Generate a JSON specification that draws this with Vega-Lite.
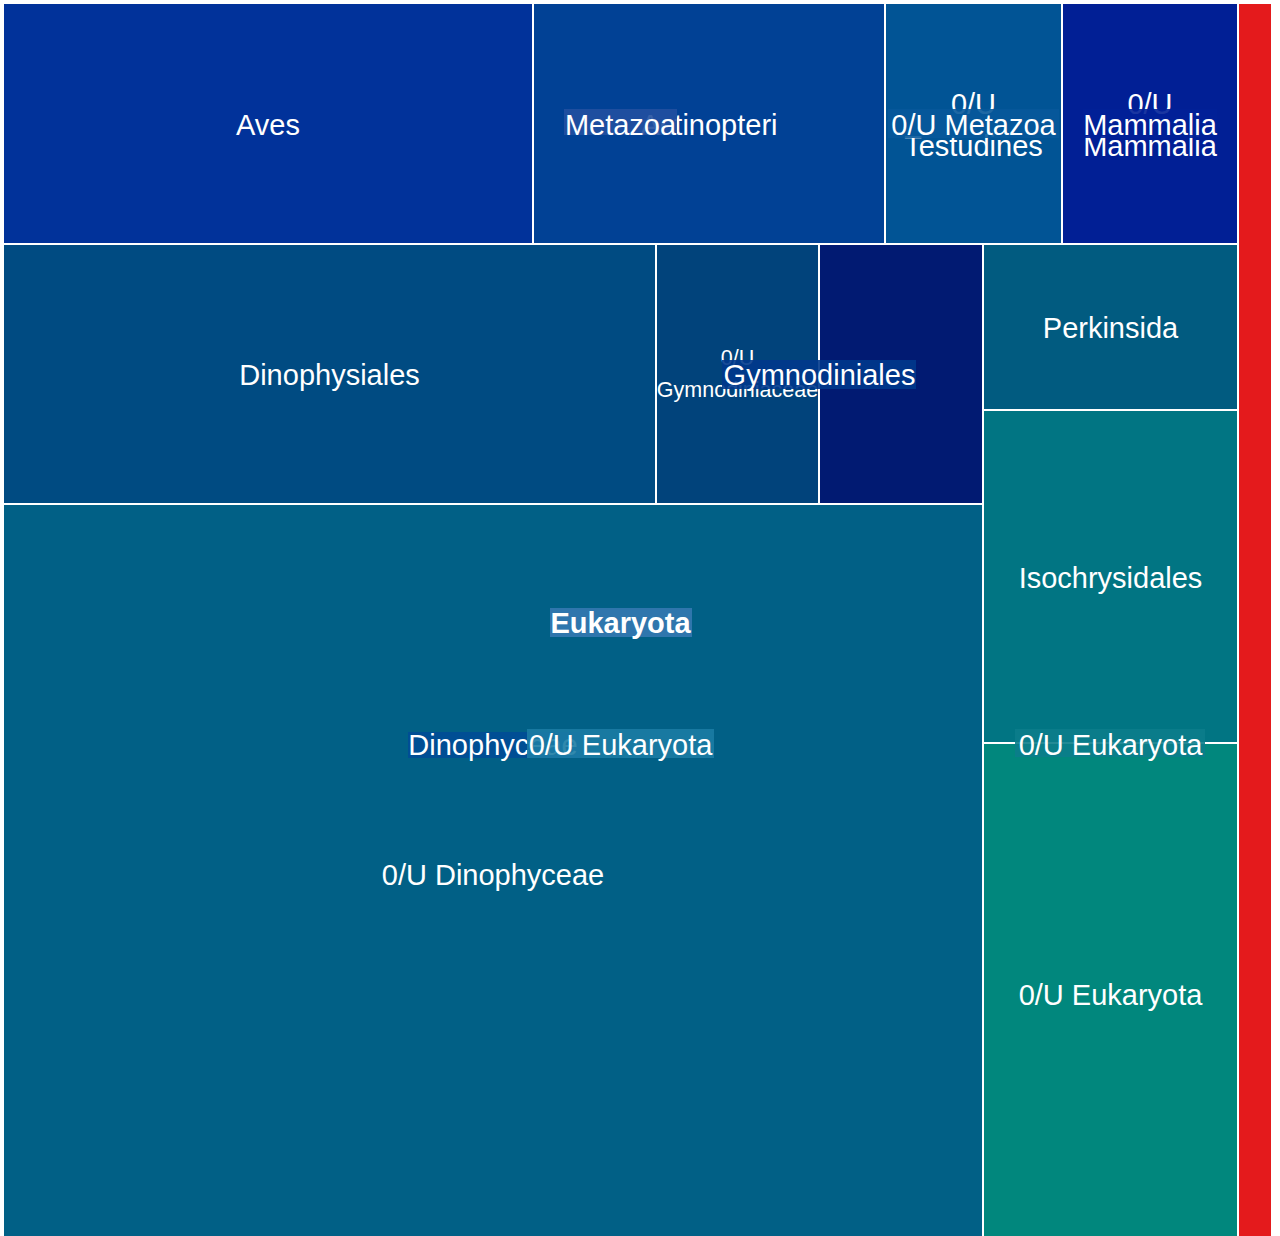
{
  "$schema": "https://vega.github.io/schema/vega-lite/v6.json",
  "width": 1280,
  "height": 1236,
  "padding": 0,
  "autosize": {"type": "fit", "contains": "padding"},
  "background": "white",
  "config": {"view": {"stroke": null}, "text": {"font": "Liberation Sans"}},
  "datasets": {
    "cells": [
      {"key": "aves", "label": "Aves", "small": false, "wrap": false, "x0": 3, "x1": 533, "y0": 3, "y1": 244},
      {"key": "actinopteri", "label": "Actinopteri", "small": false, "wrap": false, "x0": 533, "x1": 885, "y0": 3, "y1": 244},
      {"key": "testudines", "label": "0/U\nTestudines", "small": false, "wrap": true, "x0": 885, "x1": 1062, "y0": 3, "y1": 244},
      {"key": "mammalia", "label": "0/U\nMammalia", "small": false, "wrap": true, "x0": 1062, "x1": 1238, "y0": 3, "y1": 244},
      {"key": "dinophysiales", "label": "Dinophysiales", "small": false, "wrap": false, "x0": 3, "x1": 656, "y0": 244, "y1": 504},
      {"key": "gymnodiniaceae", "label": "0/U\nGymnodiniaceae", "small": true, "wrap": true, "x0": 656, "x1": 819, "y0": 244, "y1": 504},
      {"key": "gymnodiniales_leaf", "label": "", "small": false, "wrap": false, "x0": 819, "x1": 983, "y0": 244, "y1": 504},
      {"key": "perkinsida", "label": "Perkinsida", "small": false, "wrap": false, "x0": 983, "x1": 1238, "y0": 244, "y1": 410},
      {"key": "isochrysidales", "label": "Isochrysidales", "small": false, "wrap": false, "x0": 983, "x1": 1238, "y0": 410, "y1": 743},
      {"key": "eukaryota_leaf", "label": "0/U Eukaryota", "small": false, "wrap": false, "x0": 983, "x1": 1238, "y0": 743, "y1": 1244},
      {"key": "dinophyceae_leaf", "label": "0/U Dinophyceae", "small": false, "wrap": false, "x0": 3, "x1": 983, "y0": 504, "y1": 1244},
      {"key": "other", "label": "", "small": false, "wrap": false, "x0": 1238, "x1": 1272, "y0": 3, "y1": 1244}
    ],
    "groups": [
      {"key": "g_metazoa", "label": "Metazoa", "level": "A", "bold": false, "gx0": 3, "gx1": 1238, "gy0": 3, "gy1": 244, "bx0": 564, "bx1": 677, "by0": 109, "by1": 135},
      {"key": "g_dinophyceae", "label": "Dinophyceae", "level": "A", "bold": false, "gx0": 3, "gx1": 983, "gy0": 244, "gy1": 1244, "bx0": 408, "bx1": 580, "by0": 732, "by1": 758},
      {"key": "g_euk_right", "label": "0/U Eukaryota", "level": "A", "bold": false, "gx0": 983, "gx1": 1238, "gy0": 244, "gy1": 1244, "bx0": 1015, "bx1": 1205, "by0": 729, "by1": 757},
      {"key": "g_gymnodiniales", "label": "Gymnodiniales", "level": "A", "bold": false, "gx0": 656, "gx1": 983, "gy0": 244, "gy1": 504, "bx0": 722, "bx1": 916, "by0": 360, "by1": 389},
      {"key": "g_metazoa_0u", "label": "0/U Metazoa", "level": "A", "bold": false, "gx0": 885, "gx1": 1062, "gy0": 3, "gy1": 244, "bx0": 888, "bx1": 1059, "by0": 109, "by1": 138},
      {"key": "g_mammalia", "label": "Mammalia", "level": "A", "bold": false, "gx0": 1062, "gx1": 1238, "gy0": 3, "gy1": 244, "bx0": 1083, "bx1": 1217, "by0": 109, "by1": 138},
      {"key": "g_euk_center", "label": "0/U Eukaryota", "level": "B", "bold": false, "gx0": 3, "gx1": 1238, "gy0": 244, "gy1": 1244, "bx0": 527, "bx1": 714, "by0": 729, "by1": 758},
      {"key": "g_euk_root", "label": "Eukaryota", "level": "B", "bold": true, "gx0": 3, "gx1": 1238, "gy0": 3, "gy1": 1238, "bx0": 550, "bx1": 692, "by0": 608, "by1": 637}
    ]
  },
  "layer": [
    {
      "data": {"name": "cells"},
      "mark": {"type": "rect", "stroke": "white", "strokeWidth": 2, "clip": true},
      "encoding": {
        "x": {"field": "x0", "type": "quantitative", "scale": {"domain": [0, 1280], "nice": false, "zero": false}, "axis": null},
        "x2": {"field": "x1"},
        "y": {"field": "y0", "type": "quantitative", "scale": {"domain": [0, 1236], "nice": false, "zero": false, "reverse": true}, "axis": null},
        "y2": {"field": "y1"},
        "color": {
          "field": "key", "type": "nominal", "legend": null,
          "scale": {
            "domain": ["aves", "actinopteri", "testudines", "mammalia", "dinophysiales", "gymnodiniaceae", "gymnodiniales_leaf", "perkinsida", "isochrysidales", "eukaryota_leaf", "dinophyceae_leaf", "other", "g_metazoa", "g_dinophyceae", "g_euk_right", "g_gymnodiniales", "g_metazoa_0u", "g_mammalia", "g_euk_center", "g_euk_root"],
            "range": ["#01329a", "#014195", "#015495", "#011f95", "#004b82", "#01437b", "#011a72", "#015b80", "#017583", "#01877d", "#016086", "#e41a1c", "#2150a0", "#004c96", "#0b7d8b", "#00398c", "#07589a", "#012097", "#1b7ca4", "#3479b1"]
          }
        }
      }
    },
    {
      "data": {"name": "cells"},
      "transform": [
        {"filter": "datum.wrap == false"},
        {"calculate": "(datum.x0 + datum.x1) / 2", "as": "cx"},
        {"calculate": "(datum.y0 + datum.y1) / 2", "as": "cy"}
      ],
      "mark": {"type": "text", "color": "white", "fontSize": 29, "align": "center", "baseline": "middle", "dy": 2},
      "encoding": {
        "x": {"field": "cx", "type": "quantitative"},
        "y": {"field": "cy", "type": "quantitative"},
        "text": {"field": "label", "type": "nominal"}
      }
    },
    {
      "data": {"name": "cells"},
      "transform": [
        {"filter": "datum.wrap == true && datum.small == false"},
        {"calculate": "(datum.x0 + datum.x1) / 2", "as": "cx"},
        {"calculate": "(datum.y0 + datum.y1) / 2", "as": "cy"}
      ],
      "mark": {"type": "text", "color": "white", "fontSize": 29, "lineHeight": 42, "lineBreak": "\n", "align": "center", "baseline": "middle", "dy": -19},
      "encoding": {
        "x": {"field": "cx", "type": "quantitative"},
        "y": {"field": "cy", "type": "quantitative"},
        "text": {"field": "label", "type": "nominal"}
      }
    },
    {
      "data": {"name": "cells"},
      "transform": [
        {"filter": "datum.small == true"},
        {"calculate": "(datum.x0 + datum.x1) / 2", "as": "cx"},
        {"calculate": "(datum.y0 + datum.y1) / 2", "as": "cy"}
      ],
      "mark": {"type": "text", "color": "white", "fontSize": 21.5, "lineHeight": 32, "lineBreak": "\n", "align": "center", "baseline": "middle", "dy": -15},
      "encoding": {
        "x": {"field": "cx", "type": "quantitative"},
        "y": {"field": "cy", "type": "quantitative"},
        "text": {"field": "label", "type": "nominal"}
      }
    },
    {
      "data": {"name": "groups"},
      "transform": [{"filter": "datum.level == 'A'"}],
      "mark": {"type": "rect", "opacity": 0.9},
      "encoding": {
        "x": {"field": "bx0", "type": "quantitative"},
        "x2": {"field": "bx1"},
        "y": {"field": "by0", "type": "quantitative"},
        "y2": {"field": "by1"},
        "color": {"field": "key", "type": "nominal", "legend": null}
      }
    },
    {
      "data": {"name": "groups"},
      "transform": [
        {"filter": "datum.level == 'A'"},
        {"calculate": "(datum.gx0 + datum.gx1) / 2", "as": "cx"},
        {"calculate": "(datum.gy0 + datum.gy1) / 2", "as": "cy"}
      ],
      "mark": {"type": "text", "color": "white", "fontSize": 29, "align": "center", "baseline": "middle", "dy": 2},
      "encoding": {
        "x": {"field": "cx", "type": "quantitative"},
        "y": {"field": "cy", "type": "quantitative"},
        "text": {"field": "label", "type": "nominal"}
      }
    },
    {
      "data": {"name": "groups"},
      "transform": [{"filter": "datum.level == 'B'"}],
      "mark": {"type": "rect", "opacity": 0.9},
      "encoding": {
        "x": {"field": "bx0", "type": "quantitative"},
        "x2": {"field": "bx1"},
        "y": {"field": "by0", "type": "quantitative"},
        "y2": {"field": "by1"},
        "color": {"field": "key", "type": "nominal", "legend": null}
      }
    },
    {
      "data": {"name": "groups"},
      "transform": [
        {"filter": "datum.level == 'B' && datum.bold == false"},
        {"calculate": "(datum.gx0 + datum.gx1) / 2", "as": "cx"},
        {"calculate": "(datum.gy0 + datum.gy1) / 2", "as": "cy"}
      ],
      "mark": {"type": "text", "color": "white", "fontSize": 29, "align": "center", "baseline": "middle", "dy": 2},
      "encoding": {
        "x": {"field": "cx", "type": "quantitative"},
        "y": {"field": "cy", "type": "quantitative"},
        "text": {"field": "label", "type": "nominal"}
      }
    },
    {
      "data": {"name": "groups"},
      "transform": [
        {"filter": "datum.bold == true"},
        {"calculate": "(datum.gx0 + datum.gx1) / 2", "as": "cx"},
        {"calculate": "(datum.gy0 + datum.gy1) / 2", "as": "cy"}
      ],
      "mark": {"type": "text", "color": "white", "fontSize": 29, "fontWeight": "bold", "align": "center", "baseline": "middle", "dy": 3},
      "encoding": {
        "x": {"field": "cx", "type": "quantitative"},
        "y": {"field": "cy", "type": "quantitative"},
        "text": {"field": "label", "type": "nominal"}
      }
    }
  ]
}
